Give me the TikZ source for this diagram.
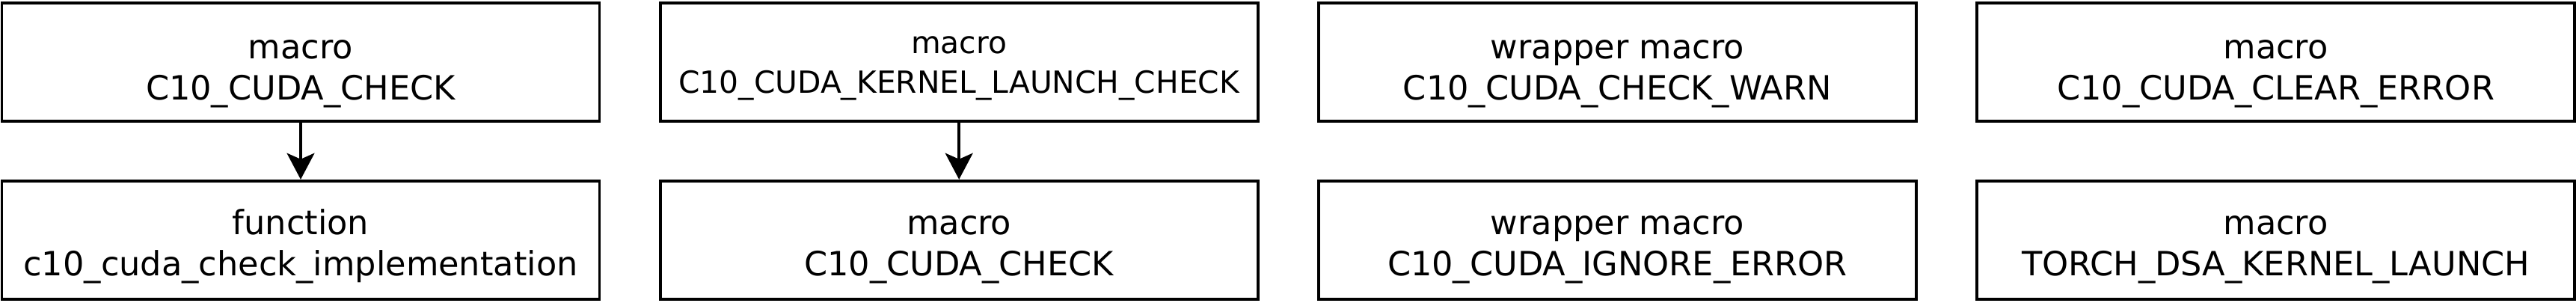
\documentclass[tikz,border=0pt]{standalone}
\usepackage{fontspec}
\setmainfont{DejaVu Sans}
\usetikzlibrary{positioning,arrows.meta}

\begin{document}
\begin{tikzpicture}[callbox/.style={draw, line width=1.05pt, minimum width=7.99cm, minimum height=1.58cm, inner sep=0pt, align=center, text depth=0pt, text height=1.0cm, font=\fontsize{12.7}{15.6}\selectfont},
		lower/.style={callbox, text height=0.95cm},
		calls/.style={-{Stealth[length=10pt,width=10.5pt,inset=2.3pt]}, line width=1.05pt}]
				\useasboundingbox (0,0) rectangle (34.44,-4.04);
				\node[callbox] (chk) at (4.02,-0.83) {macro\\C10\_CUDA\_CHECK};
				\node[callbox, right=0.775cm of chk, text height=0.82cm, font=\fontsize{11.6}{14.8}\selectfont] (kchk) {macro\\C10\_CUDA\_KERNEL\_LAUNCH\_CHECK};
				\node[callbox, right=0.775cm of kchk] (warn) {wrapper macro\\C10\_CUDA\_CHECK\_WARN};
				\node[callbox, right=0.775cm of warn] (clr) {macro\\C10\_CUDA\_CLEAR\_ERROR};
				\node[lower, below=0.76cm of chk] (impl) {function\\c10\_cuda\_check\_implementation};
				\node[lower, below=0.76cm of kchk] (chkb) {macro\\C10\_CUDA\_CHECK};
				\node[lower, below=0.76cm of warn] (ign) {wrapper macro\\C10\_CUDA\_IGNORE\_ERROR};
				\node[lower, below=0.76cm of clr] (dsa) {macro\\TORCH\_DSA\_KERNEL\_LAUNCH};
				\draw[calls] (chk) -- (impl);
				\draw[calls] (kchk) -- (chkb);
			\end{tikzpicture}
\end{document}
